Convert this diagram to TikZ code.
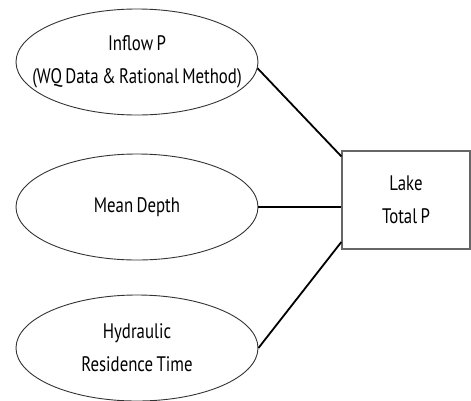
\documentclass[tikz,border=0pt]{standalone}
\usepackage{fontspec}
\setmainfont[FakeStretch=0.8,WordSpace=0.75]{PT Sans}
\usetikzlibrary{shapes.geometric,calc}
\begin{document}
\begin{tikzpicture}[x=1pt,y=-1pt,
  oval/.style={ellipse,draw=black!80,line width=0.9pt,minimum width=242pt,minimum height=106pt,inner sep=0pt},
  txt/.style={align=center,inner sep=0pt,font=\fontsize{21}{33}\selectfont,text=black},
  lakebox/.style={rectangle,draw=black!60,line width=1.3pt,minimum width=128pt,minimum height=98pt,inner sep=0pt,align=center,font=\fontsize{21}{33}\selectfont,text=black},
  link/.style={line width=1.8pt,black}]
\useasboundingbox (0,0) rectangle (471,400);
\node[oval] (e1) at (137,62) {};
\node[oval] (e2) at (137,207) {};
\node[oval] (e3) at (137,348) {};
\node[txt] (t1) at (e1.center) {Inflow P\\(WQ Data \& Rational Method)};
\node[txt] (t2) at (e2.center) {Mean Depth};
\node[txt] (t3) at (e3.center) {Hydraulic\\Residence Time};
\node[lakebox] (box) at (406,200) {Lake\\Total P};
\draw[link] (e1.-3) -- (box.146);
\draw[link] (e2.east) -- (e2.east -| box.west);
\draw[link] (e3.east) -- (box.213);
\end{tikzpicture}
\end{document}
